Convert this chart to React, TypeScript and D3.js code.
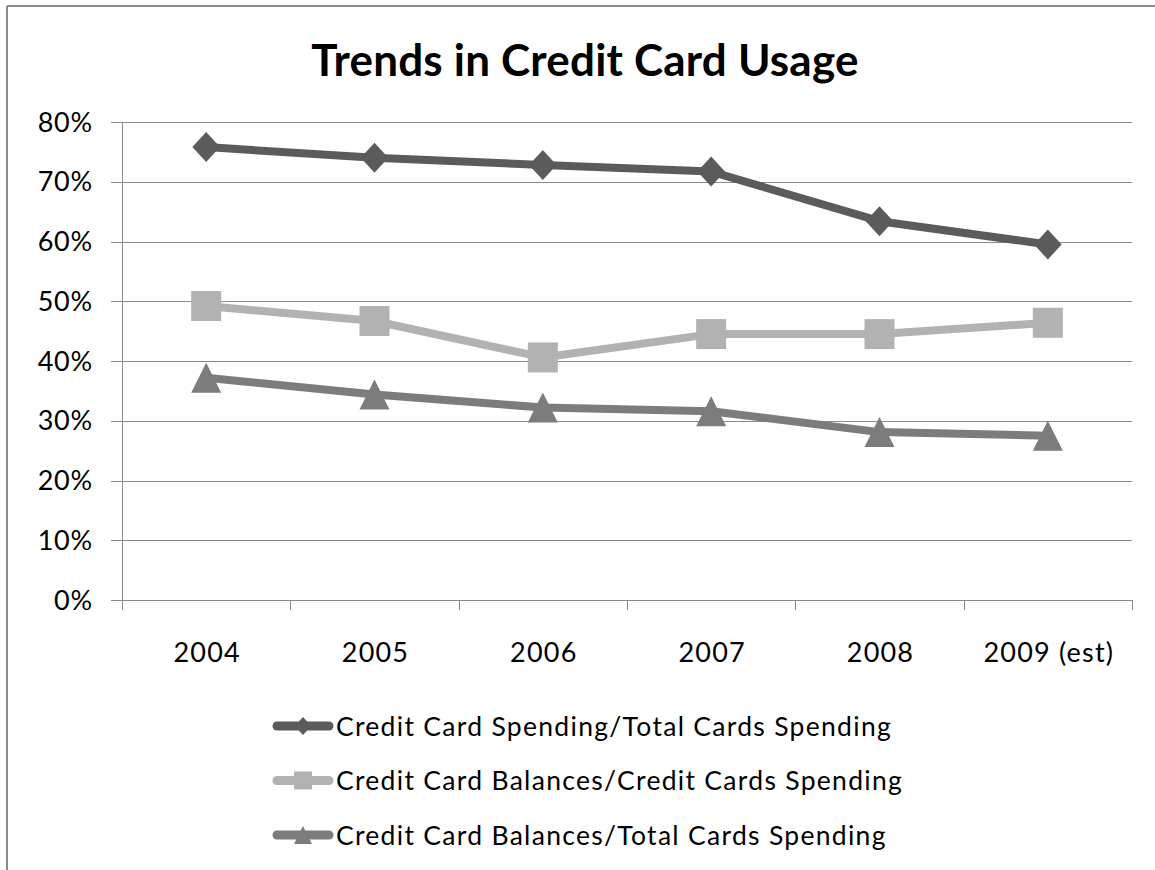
import React from "react";
import * as d3 from "d3";

const categories = ["2004", "2005", "2006", "2007", "2008", "2009 (est)"];
const spendingTotal = [0.758, 0.74, 0.728, 0.717, 0.634, 0.595];
const balancesCredit = [0.492, 0.467, 0.406, 0.445, 0.445, 0.464];
const balancesTotal = [0.372, 0.344, 0.322, 0.316, 0.281, 0.275];
const yTicks = [0, 0.1, 0.2, 0.3, 0.4, 0.5, 0.6, 0.7, 0.8];
const seriesNames = [
  "Credit Card Spending/Total Cards Spending",
  "Credit Card Balances/Credit Cards Spending",
  "Credit Card Balances/Total Cards Spending",
];

const W = 1155;
const H = 870;
const FONT = "Lato, 'Open Sans', sans-serif";

function Marker({ type, x, y, s, color }: { type: string; x: number; y: number; s: number; color: string }) {
  if (type === "diamond") {
    const w = s * 0.46, h = s * 0.5;
    return <path d={`M${x},${y - h}L${x + w},${y}L${x},${y + h}L${x - w},${y}Z`} fill={color} />;
  }
  if (type === "square") {
    return <rect x={x - s / 2} y={y - s / 2} width={s} height={s} fill={color} />;
  }
  const h = s / 2;
  return <path d={`M${x},${y - h}L${x + h},${y + h}L${x - h},${y + h}Z`} fill={color} />;
}

export default function App() {
  const x = d3.scaleBand<string>().domain(categories).range([122, 1132]);
  const y = d3.scaleLinear().domain([0, 0.8]).range([600, 122]);
  const series = [
    { name: seriesNames[0], values: spendingTotal, color: "#5b5b5b", marker: "diamond" },
    { name: seriesNames[1], values: balancesCredit, color: "#b2b2b2", marker: "square" },
    { name: seriesNames[2], values: balancesTotal, color: "#7c7c7c", marker: "triangle" },
  ];
  const line = d3
    .line<number>()
    .x((_, i) => (x(categories[i]) as number) + x.bandwidth() / 2)
    .y((d) => y(d));
  const grid = "#8a8a8a";
  const boundaries = [...categories.map((c) => x(c) as number), x.range()[1]];

  return (
    <svg width={W} height={H} style={{ position: "absolute", left: 0, top: 0 }} fontFamily={FONT}>
      <rect x={0} y={0} width={W} height={H} fill="#fff" />
      <line x1={7} x2={W} y1={6} y2={6} stroke="#8c8c8c" strokeWidth={2} />
      <line x1={7} x2={7} y1={6} y2={H} stroke="#8c8c8c" strokeWidth={2} />
      <text x={585} y={76} textAnchor="middle" fontSize={44} fontWeight={700} fill="#000" letterSpacing={0.2}>
        Trends in Credit Card Usage
      </text>
      {yTicks.map((t) => (
        <g key={t}>
          <line x1={111} x2={1132} y1={Math.round(y(t)) + 0.5} y2={Math.round(y(t)) + 0.5} stroke={grid} strokeWidth={1} />
          <text x={93} y={y(t)} dy="0.36em" textAnchor="end" fontSize={27} letterSpacing={0.8} fill="#000">
            {d3.format(".0%")(t)}
          </text>
        </g>
      ))}
      <line x1={122.5} x2={122.5} y1={122} y2={600} stroke={grid} strokeWidth={1} />
      {boundaries.map((b, i) => (
        <line key={i} x1={Math.round(b) + 0.5} x2={Math.round(b) + 0.5} y1={600} y2={610} stroke={grid} strokeWidth={1} />
      ))}
      {categories.map((c) => (
        <text key={c} x={(x(c) as number) + x.bandwidth() / 2 + 1} y={662} textAnchor="middle" fontSize={27} letterSpacing={1.2} fill="#000">
          {c}
        </text>
      ))}
      {series.map((s) => (
        <g key={s.name}>
          <path d={line(s.values) || ""} fill="none" stroke={s.color} strokeWidth={8} strokeLinejoin="round" />
          {s.values.map((v, i) => (
            <Marker key={i} type={s.marker} x={(x(categories[i]) as number) + x.bandwidth() / 2} y={y(v)} s={30} color={s.color} />
          ))}
        </g>
      ))}
      {series.map((s, i) => {
        const cy = 726 + i * 54.5;
        return (
          <g key={s.name}>
            <line x1={277} x2={329} y1={cy} y2={cy} stroke={s.color} strokeWidth={9} strokeLinecap="round" />
            <Marker type={s.marker} x={303} y={cy} s={18} color={s.color} />
            <text x={336} y={cy} dy="0.36em" fontSize={26.5} letterSpacing={1.3} fill="#000">
              {s.name}
            </text>
          </g>
        );
      })}
    </svg>
  );
}
